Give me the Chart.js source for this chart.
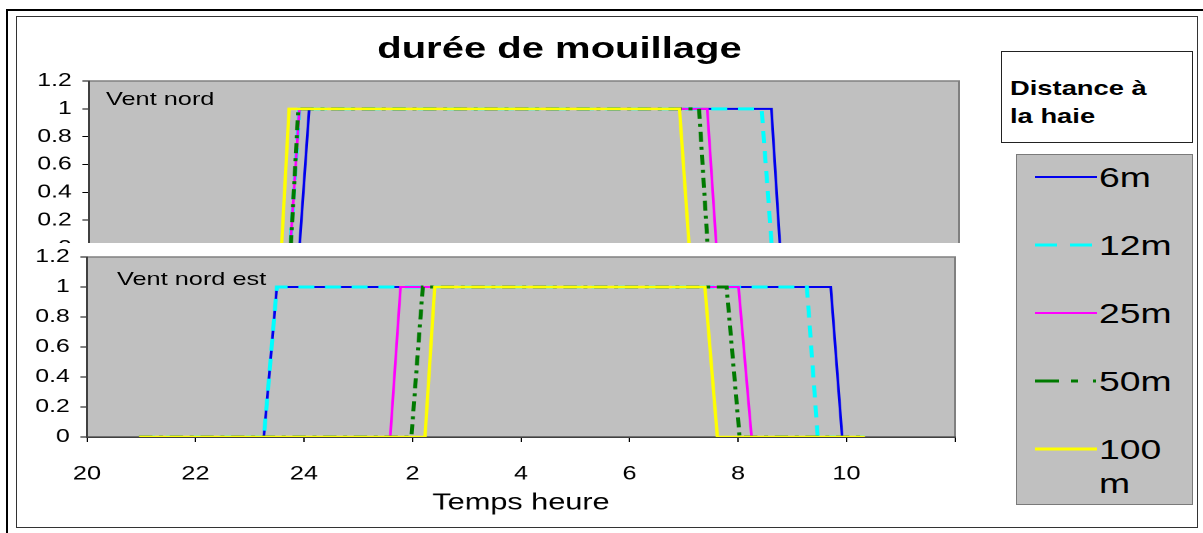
<!DOCTYPE html>
<html><head><meta charset="utf-8">
<script src="https://cdn.jsdelivr.net/npm/chart.js@4.4.1/dist/chart.umd.min.js"></script>
<style>
html,body{margin:0;padding:0;background:#fff;width:1203px;height:533px;overflow:hidden;font-family:"Liberation Sans",Arial,sans-serif;}
.abs{position:absolute;}
#stretch{position:absolute;left:0;top:0;width:725px;height:533px;transform:scaleX(1.3333);transform-origin:0 0;}
#clipA{position:absolute;left:0;top:0;width:725px;height:243px;overflow:hidden;}
#ca{position:absolute;left:0;top:0;}
#cb{position:absolute;left:0;top:243px;}
.t{position:absolute;white-space:nowrap;color:#000;transform-origin:0 0;transform:scaleX(1.3333);}
</style></head>
<body>
<div class="abs" style="left:6px;top:9px;width:1197px;height:2px;background:#000"></div>
<div class="abs" style="left:6px;top:9px;width:2px;height:524px;background:#000"></div>
<div class="abs" style="left:16px;top:16px;width:1180px;height:510px;border:1px solid #333"></div>

<div id="stretch">
  <div id="clipA"><canvas id="ca" width="725" height="262"></canvas></div>
  <canvas id="cb" width="725" height="290"></canvas>
</div>

<div class="t" style="left:0;top:33px;width:1119px;text-align:center;font-size:30px;line-height:30px;font-weight:bold;transform-origin:559.5px 0;">durée de mouillage</div>
<div class="t" style="left:106px;top:89px;font-size:19px;line-height:19px;">Vent nord</div>
<div class="t" style="left:117px;top:269px;font-size:19px;line-height:19px;">Vent nord est</div>

<div class="abs" style="left:1001px;top:51px;width:190px;height:90px;background:#fff;border:1px solid #222"></div>
<div class="t" style="left:1010px;top:74px;font-size:20.5px;line-height:28px;font-weight:bold;">Distance à<br>la haie</div>
<div class="abs" id="legendBox" style="left:1016px;top:154px;width:175px;height:349px;background:#C0C0C0;border:1px solid #7a7a7a"></div>
<div id="legendItems"></div>

<script>
// ---- data ----
const seriesNames = ['6m', '12m', '25m', '50m', '100 m'];
const stepValues = [0, 0, 1, 1, 0, 0];
const yTickLabels = ['0', '0.2', '0.4', '0.6', '0.8', '1', '1.2'];
const xTickLabels = ['20', '22', '24', '2', '4', '6', '8', '10', ''];

// Vent nord (hours, 24 = midnight)
const nord6m   = [20.96, 23.87, 24.05, 32.55, 32.71, 34.34];
const nord12m  = [20.96, 23.70, 23.87, 32.37, 32.56, 34.34];
const nord25m  = [20.96, 23.70, 23.87, 31.37, 31.54, 34.34];
const nord50m  = [20.96, 23.71, 23.85, 31.22, 31.38, 34.34];
const nord100m = [20.96, 23.54, 23.68, 30.86, 31.04, 34.34];

// Vent nord est
const nordEst6m   = [20.96, 23.26, 23.50, 33.71, 33.92, 34.34];
const nordEst12m  = [20.96, 23.26, 23.50, 33.27, 33.47, 34.34];
const nordEst25m  = [20.96, 25.59, 25.78, 32.01, 32.25, 34.34];
const nordEst50m  = [20.96, 25.98, 26.19, 31.79, 32.03, 34.34];
const nordEst100m = [20.96, 26.23, 26.41, 31.39, 31.62, 34.34];

// ---- styles ----
const colors = ['#0000EE', '#00FFFF', '#FF00FF', '#007A00', '#FFFF00'];
const widths = [2, 3, 2, 3, 2.5];
const dashes = [[], [12, 8], [], [10, 5, 3, 5], []];
const legendDash = ['', '22 13', '', '24 12 7 15 3 10', ''];
const legendWidths = [2, 3, 2, 3, 3];

const FONT = '"Liberation Sans", Arial, sans-serif';
Chart.defaults.font.family = FONT;
Chart.defaults.color = '#000';

const plotBg = {
  id: 'plotBg',
  beforeDraw(c) {
    const { ctx, chartArea: a } = c;
    ctx.save();
    ctx.fillStyle = '#C0C0C0';
    ctx.fillRect(a.left, a.top, a.right - a.left, a.bottom - a.top);
    ctx.strokeStyle = '#808080';
    ctx.lineWidth = 1.5;
    ctx.strokeRect(a.left, a.top, a.right - a.left, a.bottom - a.top);
    ctx.restore();
  }
};

function makeDatasets(timeArrays) {
  return timeArrays.map((times, i) => ({
    label: seriesNames[i],
    data: times.map((t, k) => ({ x: t, y: stepValues[k] })),
    borderColor: colors[i],
    backgroundColor: colors[i],
    borderWidth: widths[i],
    borderDash: dashes[i],
    pointRadius: 0,
    tension: 0,
    fill: false,
    order: 5 - i
  }));
}

function yScale(axisWidth) {
  return {
    min: 0, max: 1.2,
    afterFit(s) { s.width = axisWidth; s.paddingTop = 0; s.paddingBottom = 0; },
    ticks: {
      stepSize: 0.2,
      callback: v => yTickLabels[Math.round(v / 0.2)],
      font: { size: 18.5 }, color: '#000', padding: 8
    },
    grid: { drawOnChartArea: false, drawTicks: true, tickLength: 5, color: '#000' },
    border: { color: '#404040', width: 1.5 }
  };
}

new Chart(document.getElementById('ca'), {
  type: 'line',
  data: { datasets: makeDatasets([nord6m, nord12m, nord25m, nord50m, nord100m]) },
  options: {
    responsive: false, animation: false, devicePixelRatio: 2,
    layout: { padding: { top: 81, bottom: 14, left: 0, right: 5.75 } },
    plugins: { legend: { display: false }, tooltip: { enabled: false } },
    scales: {
      x: { type: 'linear', min: 20, max: 36, display: false },
      y: yScale(66.75)
    }
  },
  plugins: [plotBg]
});

new Chart(document.getElementById('cb'), {
  type: 'line',
  data: { datasets: makeDatasets([nordEst6m, nordEst12m, nordEst25m, nordEst50m, nordEst100m]) },
  options: {
    responsive: false, animation: false, devicePixelRatio: 2,
    layout: { padding: { top: 14, bottom: 0, left: 0, right: 8.75 } },
    plugins: { legend: { display: false }, tooltip: { enabled: false } },
    scales: {
      x: {
        type: 'linear', min: 20, max: 36,
        afterFit(s) { s.height = 96; s.paddingLeft = 0; s.paddingRight = 0; },
        ticks: {
          stepSize: 2, maxRotation: 0, autoSkip: false,
          callback: v => xTickLabels[Math.round((v - 20) / 2)],
          font: { size: 19 }, color: '#000', padding: 21
        },
        grid: { drawOnChartArea: false, drawTicks: true, tickLength: 5, color: '#000' },
        border: { color: '#404040', width: 1.5 },
        title: { display: true, text: 'Temps heure', font: { size: 23 }, color: '#000', padding: { top: 0, bottom: 16 } }
      },
      y: yScale(65.25)
    }
  },
  plugins: [plotBg]
});

// ---- legend ----
const legendRoot = document.getElementById('legendItems');
seriesNames.forEach((name, i) => {
  const lineY = 177 + i * 68;
  const ns = 'http://www.w3.org/2000/svg';
  const svg = document.createElementNS(ns, 'svg');
  svg.setAttribute('width', '62'); svg.setAttribute('height', '8');
  svg.setAttribute('class', 'abs');
  svg.style.left = '1035px'; svg.style.top = (lineY - 4) + 'px';
  const ln = document.createElementNS(ns, 'line');
  ln.setAttribute('x1', '0'); ln.setAttribute('x2', '62');
  ln.setAttribute('y1', '4'); ln.setAttribute('y2', '4');
  ln.setAttribute('stroke', colors[i]);
  ln.setAttribute('stroke-width', legendWidths[i]);
  if (legendDash[i]) ln.setAttribute('stroke-dasharray', legendDash[i]);
  svg.appendChild(ln);
  legendRoot.appendChild(svg);
  const tx = document.createElement('div');
  tx.className = 't';
  tx.style.left = '1099px';
  tx.style.top = (lineY - 16) + 'px';
  tx.style.fontSize = '28px';
  tx.style.lineHeight = '34px';
  tx.style.whiteSpace = 'normal';
  tx.style.width = '60px';
  tx.textContent = name;
  legendRoot.appendChild(tx);
});
</script>
</body></html>
